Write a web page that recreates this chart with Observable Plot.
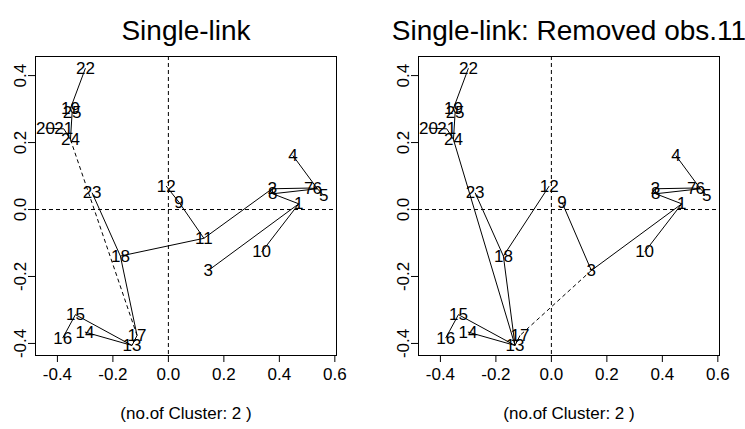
<!DOCTYPE html>
<html>
<head>
<meta charset="utf-8">
<script src="https://cdn.jsdelivr.net/npm/d3@7"></script>
<script src="https://cdn.jsdelivr.net/npm/@observablehq/plot@0.6"></script>
<style>
  html, body { margin: 0; padding: 0; background: #fff; overflow: hidden; }
  #wrap { position: relative; width: 745px; height: 429px; overflow: hidden; }
  #wrap > div { position: absolute; top: 0; width: 383px; height: 429px; }
  #wrap svg { max-width: none !important; width: 383px; height: 429px; display: block; }
</style>
</head>
<body>
<div id="wrap"><div id="left" style="left:0px"></div><div id="right" style="left:383px"></div></div>
<script>
// Observation labels and their coordinates (first two components)
const obsLabels = ["1","2","3","4","5","6","7","8","9","10","11","12","13","14","15","16","17","18","19","20","21","22","23","24","25"];
const comp1 = [0.470, 0.374, 0.144, 0.449, 0.560, 0.537, 0.506, 0.376, 0.038, 0.336, 0.128, -0.008, -0.131, -0.301, -0.335, -0.381, -0.113, -0.173, -0.353, -0.443, -0.377, -0.299, -0.275, -0.353, -0.347];
const comp2 = [0.017, 0.062, -0.182, 0.161, 0.042, 0.062, 0.064, 0.047, 0.022, -0.127, -0.086, 0.070, -0.406, -0.366, -0.314, -0.384, -0.376, -0.139, 0.302, 0.243, 0.241, 0.422, 0.050, 0.209, 0.289];

// Single-link tree edges (from, to); cut edge drawn dashed
const leftEdgeFrom = ["22","19","25","20","21","23","18","18","11","9","11","2","2","8","7","6","4","8","1","1","15","14","16","17"];
const leftEdgeTo   = ["19","25","24","21","24","18","17","11","9","12","2","8","7","6","6","5","6","1","3","10","13","13","15","13"];
const leftCutFrom = ["24"];
const leftCutTo   = ["17"];

const rightEdgeFrom = ["22","19","25","20","21","24","23","18","18","17","15","14","16","9","3","1","1","2","2","8","7","6","4"];
const rightEdgeTo   = ["19","25","24","21","24","13","18","12","13","13","13","13","15","3","1","10","8","8","7","6","6","5","6"];
const rightCutFrom = ["3"];
const rightCutTo   = ["17"];

const removedObs = ["11"];

const titles = ["Single-link", "Single-link: Removed obs.11"];
const captionText = "(no.of Cluster: 2 )";
const xTicks = [-0.4, -0.2, 0.0, 0.2, 0.4, 0.6];
const yTicks = [-0.4, -0.2, 0.0, 0.2, 0.4];

const FONT = "Liberation Sans, Arial, Helvetica, sans-serif";

function makePoints(exclude) {
  return obsLabels.map((id, i) => ({id, x: comp1[i], y: comp2[i]}))
    .filter(d => !exclude.includes(d.id));
}
function makeEdges(from, to, pts) {
  const m = new Map(pts.map(d => [d.id, d]));
  return from.map((f, i) => ({a: m.get(f), b: m.get(to[i])}));
}

function panel(pts, edges, cuts, title) {
  return Plot.plot({
    width: 383,
    height: 429,
    marginLeft: 35,
    marginRight: 47,
    marginTop: 56,
    marginBottom: 74,
    style: {fontFamily: FONT, background: "#fff", color: "#000", overflow: "visible"},
    x: {domain: [-0.479, 0.606]},
    y: {domain: [-0.436, 0.457]},
    marks: [
      Plot.frame({stroke: "#000", strokeWidth: 1}),
      Plot.ruleX([0], {stroke: "#000", strokeDasharray: "4,3", strokeWidth: 1}),
      Plot.ruleY([0], {stroke: "#000", strokeDasharray: "4,3", strokeWidth: 1}),
      Plot.link(edges, {x1: d => d.a.x, y1: d => d.a.y, x2: d => d.b.x, y2: d => d.b.y, stroke: "#000", strokeWidth: 1}),
      Plot.link(cuts, {x1: d => d.a.x, y1: d => d.a.y, x2: d => d.b.x, y2: d => d.b.y, stroke: "#000", strokeWidth: 1, strokeDasharray: "4,3"}),
      Plot.text(pts, {x: "x", y: "y", text: "id", fontSize: 17, fill: "#000"}),
      Plot.axisX({ticks: xTicks, tickSize: 7, tickPadding: 5, tickFormat: d => d.toFixed(1), fontSize: 17, label: null, stroke: "#000"}),
      Plot.axisY({ticks: yTicks, tickSize: 7, tickPadding: 3, tickRotate: -90, tickFormat: d => d.toFixed(1), fontSize: 17, label: null, stroke: "#000"}),
      Plot.text([title], {frameAnchor: "top", lineAnchor: "middle", dy: -25, dx: 0, fontSize: 28, fill: "#000"}),
      Plot.text([captionText], {frameAnchor: "bottom", lineAnchor: "middle", dy: 58, fontSize: 17, fill: "#000"})
    ]
  });
}

const leftPts = makePoints([]);
const rightPts = makePoints(removedObs);
document.getElementById("left").appendChild(
  panel(leftPts, makeEdges(leftEdgeFrom, leftEdgeTo, leftPts), makeEdges(leftCutFrom, leftCutTo, leftPts), titles[0]));
document.getElementById("right").appendChild(
  panel(rightPts, makeEdges(rightEdgeFrom, rightEdgeTo, rightPts), makeEdges(rightCutFrom, rightCutTo, rightPts), titles[1]));
</script>
</body>
</html>
